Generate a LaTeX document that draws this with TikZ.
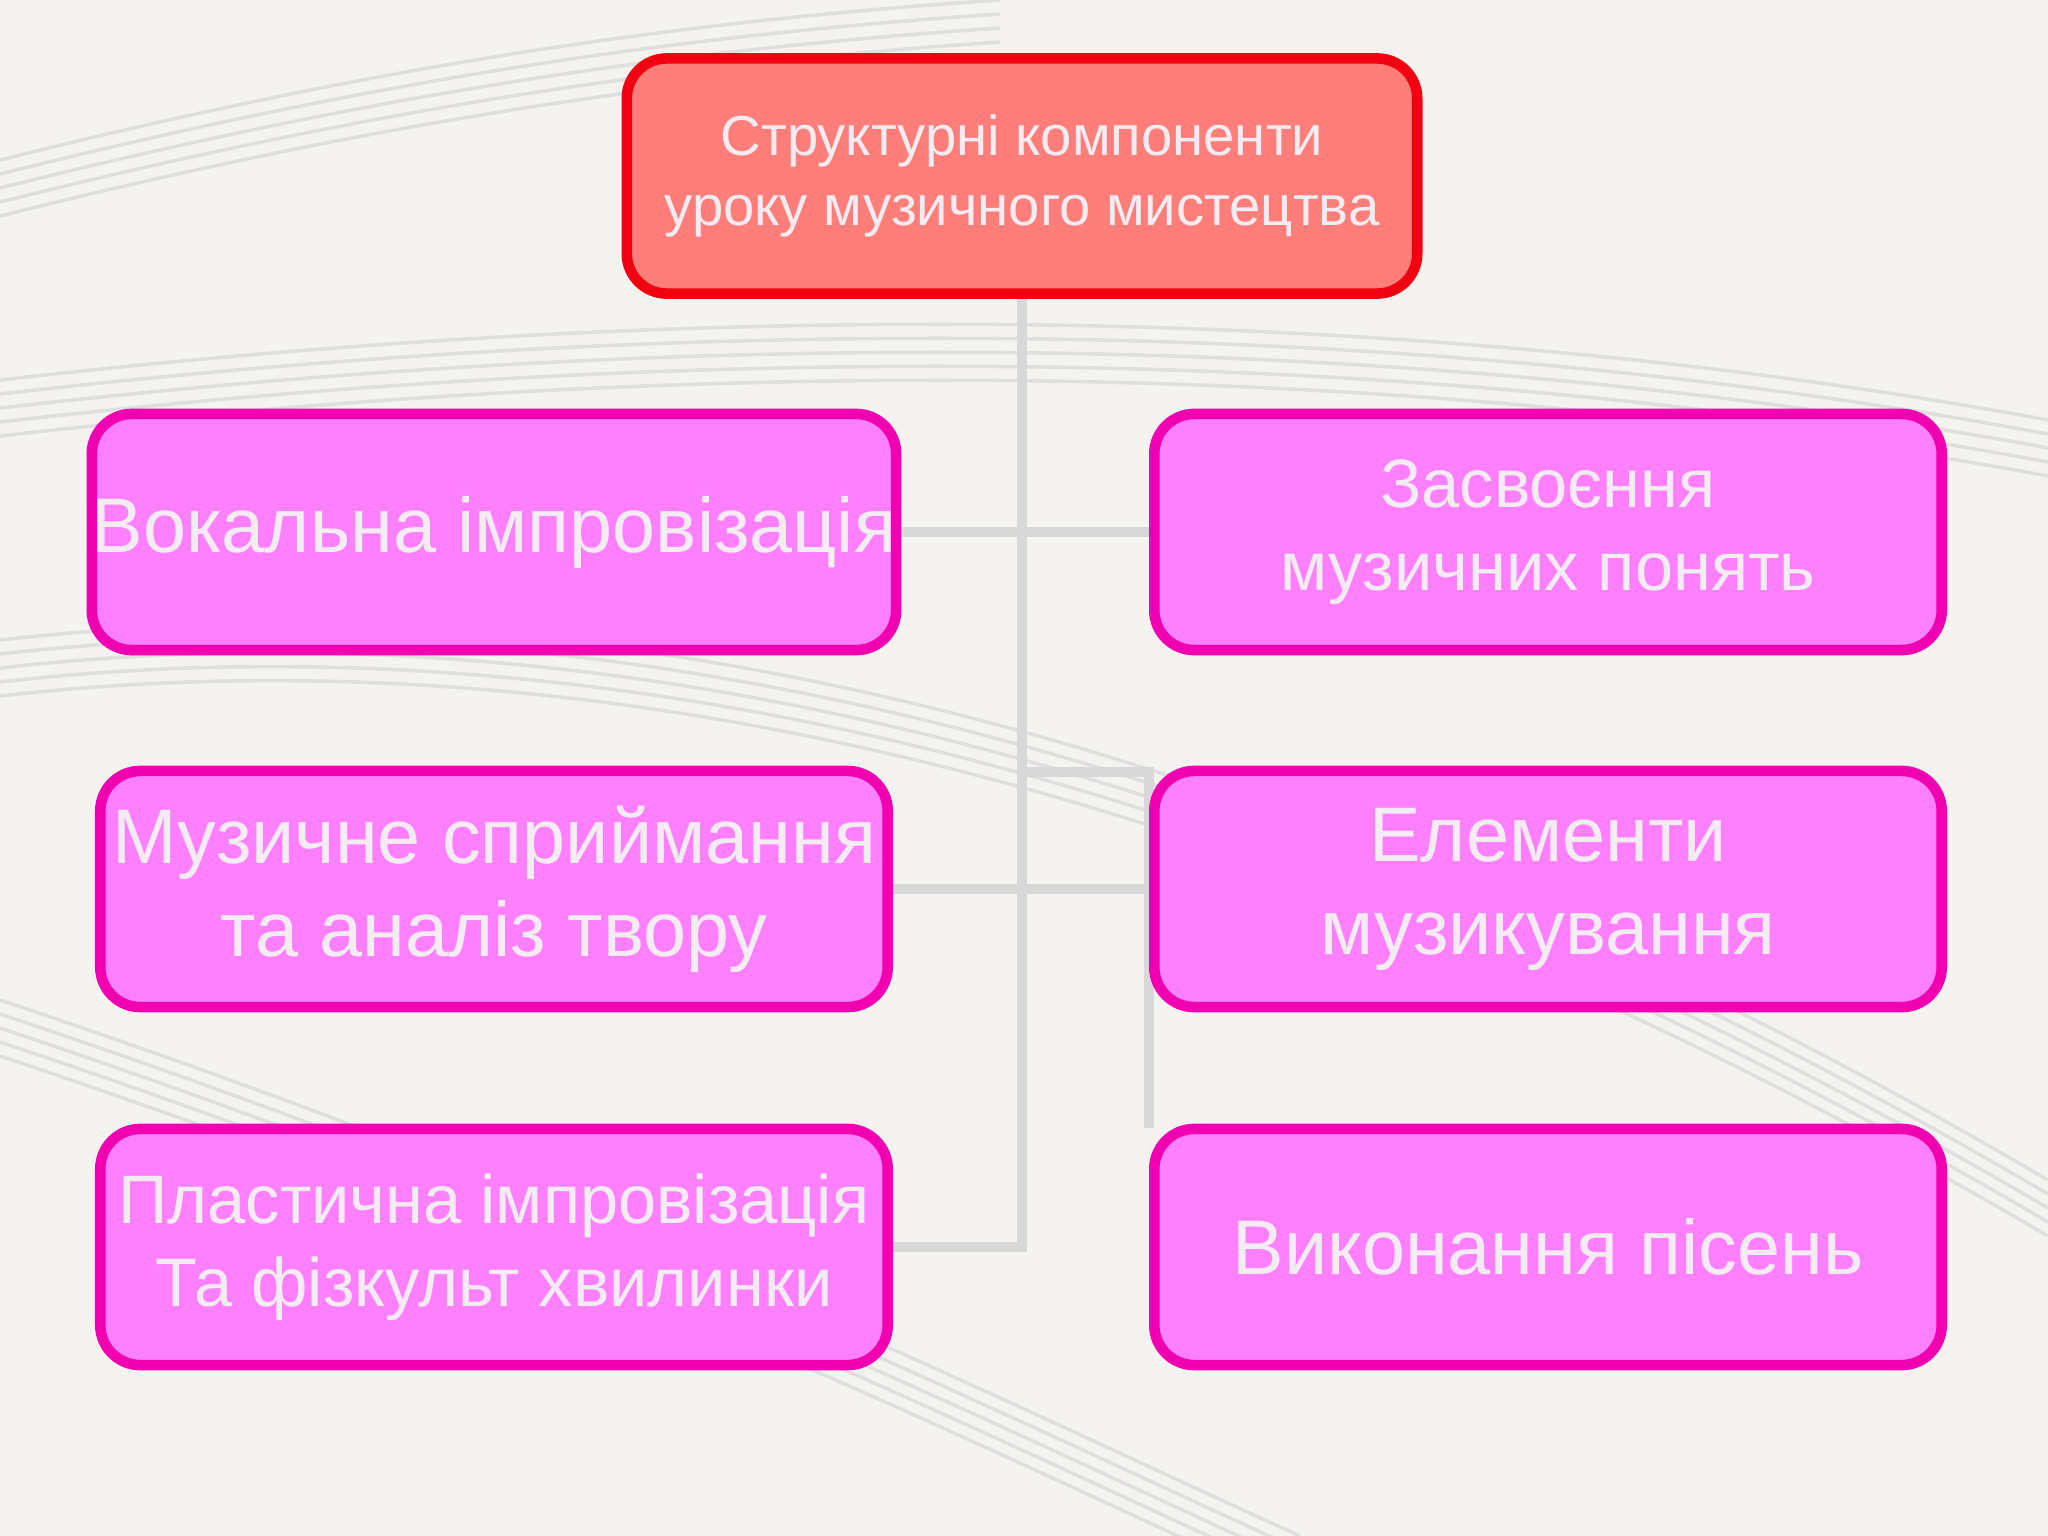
\documentclass[tikz,border=0pt]{standalone}
\usepackage{fontspec}
\setmainfont{Liberation Sans}
\usetikzlibrary{backgrounds}
\definecolor{bg}{HTML}{F5F3F0}
\definecolor{topfill}{HTML}{FF7E7A}
\definecolor{topdraw}{HTML}{F00010}
\definecolor{pinkfill}{HTML}{FF80FF}
\definecolor{pinkdraw}{HTML}{F000B0}
\definecolor{txt}{HTML}{F4ECF2}
\definecolor{conn}{HTML}{D8D8D8}
\begin{document}
\begin{tikzpicture}[x=0.01cm,y=-0.01cm,
  box/.style={draw=pinkdraw,fill=pinkfill,line width=3pt,rounded corners=0.4cm,minimum width=7.87cm,minimum height=2.36cm,text=txt,align=center,inner sep=0pt},
  topbox/.style={draw=topdraw,fill=topfill,line width=3pt,rounded corners=0.4cm,minimum width=7.9cm,minimum height=2.35cm,text=txt,align=center,font=\fontsize{16}{20}\selectfont},
  big/.style={font=\fontsize{22}{26.5}\selectfont},
  mid/.style={font=\fontsize{19.5}{23.5}\selectfont},
  conline/.style={draw=conn,line width=3pt}]
\useasboundingbox (0,0) rectangle (2048,1536);
\node[topbox] (top) at (1022,176) {Структурні компоненти\\уроку музичного мистецтва};
\node[box,big] (l1) at (494,532) {Вокальна імпровізація};
\node[box,big] (l2) at (494,889) {Музичне сприймання\\та аналіз твору};
\node[box,mid] (l3) at (494,1247) {Пластична імпровізація\\Та фізкульт хвилинки};
\node[box,mid] (r1) at (1548,532) {Засвоєння\\музичних понять};
\node[box,big] (r2) at (1548,889) {Елементи\\музикування};
\node[box,big] (r3) at (1548,1247) {Виконання пісень};
\coordinate (v1) at (1022,772);
\coordinate (v2) at (1149,772);
\coordinate (v3) at (1149,1128);
\coordinate (vb) at (1022,1247);
\begin{scope}[on background layer]
\fill[bg] (0,0) rectangle (2048,1536);
\foreach \o in {0,14,28,42,56}{
  \draw[gray!25,line width=1pt] (0,380+\o) .. controls (700,300+\o) and (1400,300+\o) .. (2048,420+\o);
  \draw[gray!25,line width=1pt] (0,640+\o) .. controls (700,560+\o) and (1400,800+\o) .. (2048,1180+\o);
  \draw[gray!25,line width=1pt] (0,1000+\o) .. controls (600,1200+\o) and (1000,1400+\o) .. (1300,1536+\o);
  \draw[gray!25,line width=1pt] (0,160+\o) .. controls (400,60+\o) and (700,20+\o) .. (1000,0+\o);
}
\draw[conline] (top.south) -- (vb) -- (l3.east);
\draw[conline] (l1.east) -- (r1.west);
\draw[conline] (v1) -- (v2) -- (v3);
\draw[conline] (l2.east) -- (l2.east -| v2);
\end{scope}
\end{tikzpicture}
\end{document}
